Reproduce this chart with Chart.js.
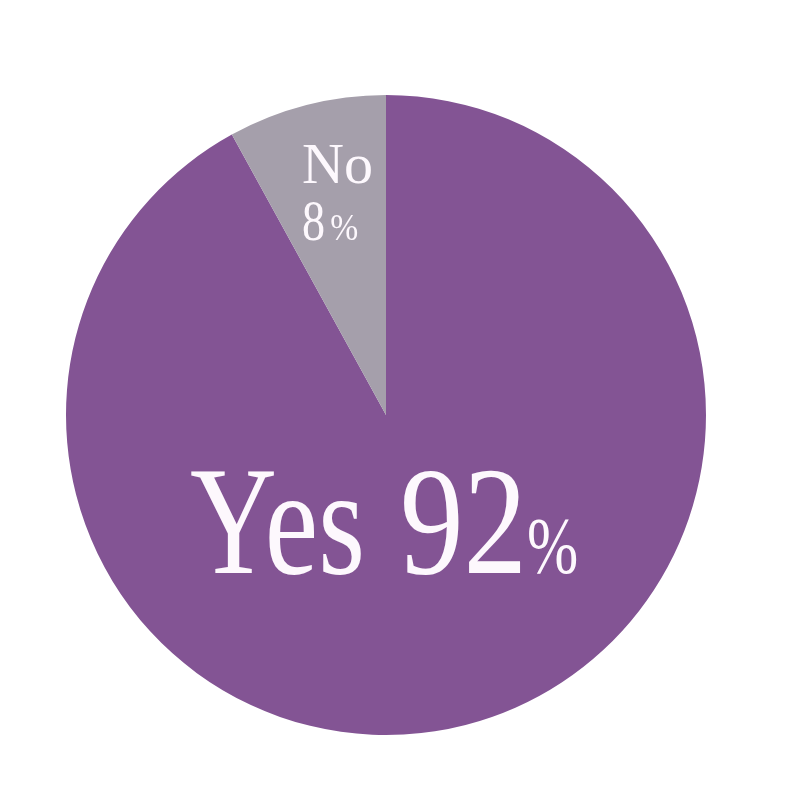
<!DOCTYPE html>
<html>
<head>
<meta charset="utf-8">
<script src="https://cdn.jsdelivr.net/npm/chart.js@4/dist/chart.umd.min.js"></script>
<style>
  html, body { margin: 0; padding: 0; background: #ffffff; }
  #wrap { width: 800px; height: 800px; }
</style>
</head>
<body>
<div id="wrap"><canvas id="pie-chart" width="800" height="800"></canvas></div>
<script>
const labels = ['Yes', 'No'];
const values = [92, 8];
const colors = ['#835494', '#a59fab'];

// big serif labels drawn on top of the slices
const sliceLabels = {
  id: 'sliceLabels',
  afterDatasetsDraw(chart) {
    const ctx = chart.ctx;
    const arcs = chart.getDatasetMeta(0).data;
    const cx = arcs[0].x, cy = arcs[0].y, r = arcs[0].outerRadius;
    const serif = 'Liberation Serif, Times New Roman, serif';
    ctx.save();
    ctx.fillStyle = '#fdf8fd';
    ctx.textBaseline = 'alphabetic';

    // each piece: [text, font size, width it should take (x radius), gap after]
    // glyphs are squeezed horizontally so the run fits those widths
    function run(parts, x, y) {
      let pos = x;
      parts.forEach(p => {
        ctx.font = p[1] + 'px ' + serif;
        const w = ctx.measureText(p[0]).width;
        const target = p[2] * r;
        ctx.save();
        ctx.translate(pos, y);
        ctx.scale(target / w, 1);
        ctx.fillText(p[0], 0, 0);
        ctx.restore();
        pos += target + (p[3] || 0) * r;
      });
    }

    // Yes 92%
    run([[labels[0], 154, 0.547, 0.109], [String(values[0]), 154, 0.397, 0.0], ['%', 80, 0.16]],
        cx - 0.6125 * r, cy + r * 0.494);

    // No / 8%
    run([[labels[1], 58, 0.222]], cx - 0.2625 * r, cy - r * 0.725);
    run([[String(values[1]), 58, 0.072, 0.016], ['%', 38, 0.0875]], cx - 0.2625 * r, cy - r * 0.547);
    ctx.restore();
  }
};

new Chart(document.getElementById('pie-chart'), {
  type: 'pie',
  data: {
    labels: labels,
    datasets: [{
      data: values,
      backgroundColor: colors,
      borderWidth: 0
    }]
  },
  options: {
    responsive: false,
    animation: false,
    layout: { padding: { left: 66, right: 94, top: 95, bottom: 65 } },
    plugins: {
      legend: { display: false },
      tooltip: { enabled: false }
    }
  },
  plugins: [sliceLabels]
});
</script>
</body>
</html>
